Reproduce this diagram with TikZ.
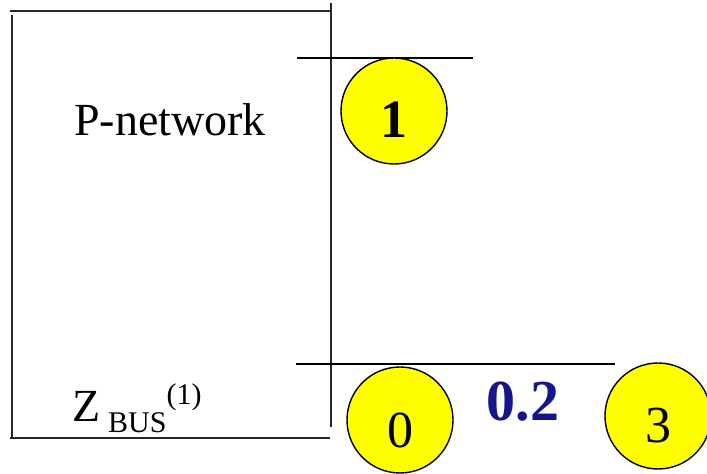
\documentclass[tikz,border=0pt]{standalone}
\usepackage{fontspec}
\setmainfont{Liberation Serif}
\usepackage{tikz}
\usetikzlibrary{positioning,calc}
\usepackage{xcolor}
\definecolor{busyellow}{RGB}{255,255,0}
\definecolor{reactnavy}{RGB}{22,22,140}
\tikzset{
    zbusline/.style={line width=1.1pt, black!85},
    busbar/.style={line width=0.9pt, black},
    busnode/.style={circle, draw=black, line width=0.7pt, fill=busyellow, minimum size=53pt, inner sep=0pt},
    busnum/.style={font=\fontsize{26}{30}\selectfont},
    boxlabel/.style={font=\fontsize{23}{26}\selectfont, inner sep=0pt},
    reactlabel/.style={font=\fontsize{29}{32}\selectfont\bfseries, text=reactnavy, inner sep=0pt}
}
\begin{document}
\begin{tikzpicture}[x=0.5pt, y=-0.5pt]
        \clip (0,0) rectangle (707,474);
        \fill[white] (0,0) rectangle (707,474);

        % P-network box
        \draw[zbusline] (10,11) -- (330,11);
        \draw[zbusline] (12,15) -- (12,438);
        \draw[zbusline] (10,438) -- (330,438);
        \draw[zbusline] (331,3) -- (331,427);

        \node[boxlabel] (pnet) at (170,120) {P-network};
        \node[boxlabel, anchor=base west] (zbus) at (72,422)
            {Z\,\raisebox{-0.22em}{\fontsize{15}{17}\selectfont BUS}\raisebox{0.38em}{\fontsize{15}{17}\selectfont(1)}};

        % bus bars
        \coordinate (bar1w) at (297,58);
        \coordinate (bar1e) at (473,58);
        \coordinate (bar0w) at (296,364);
        \coordinate (bar0e) at (615,364);
        \draw[busbar] (bar1w) -- (bar1e);
        \draw[busbar] (bar0w) -- (bar0e);

        % buses
        \node[busnode] (bus1) at (394,111) {};
        \node[busnode] (bus0) at (400,420) {};
        \node[busnode] (bus3) at (658,416) {};
        \node[busnum, font=\fontsize{27}{30}\selectfont\bfseries] (num1) at ([yshift=-4.5pt]bus1.center) {1};
        \node[busnum] (num0) at ([yshift=-5pt]bus0.center) {0};
        \node[busnum] (num3) at ([yshift=-5pt]bus3.center) {3};

        \node[reactlabel] (x03) at (523,402) {0.2};
    \end{tikzpicture}
\end{document}
